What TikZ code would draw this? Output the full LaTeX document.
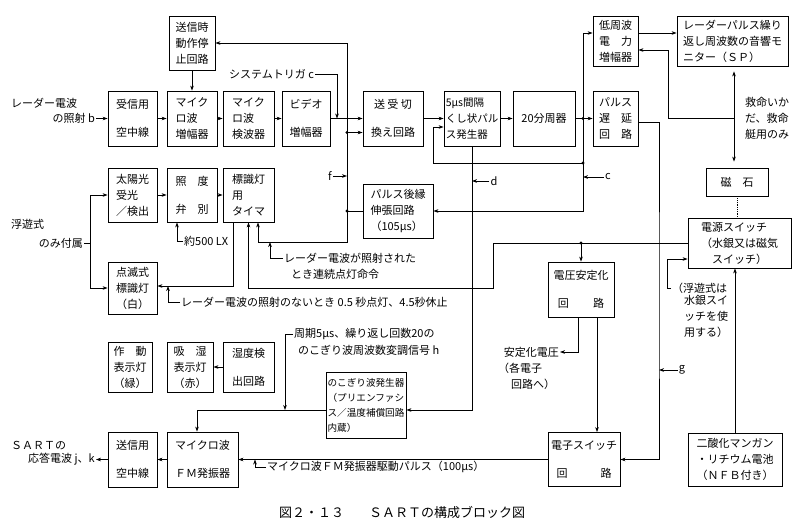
\documentclass[tikz,border=0pt]{standalone}
\usepackage{fontspec}
\setmainfont{Noto Sans CJK JP}
\usepackage{tikz}
\usetikzlibrary{arrows.meta, positioning, calc}

\begin{document}
\begin{tikzpicture}[
    x=1pt, y=-1pt,
    >={Stealth[length=5pt,width=3.6pt]},
    box/.style={rectangle, draw, line width=0.9pt, minimum height=55pt, inner sep=2pt, align=center, font=\fontsize{11}{16}\selectfont},
    lbl/.style={inner sep=1pt, font=\fontsize{11}{16}\selectfont},
    arrow/.style={->, line width=0.6pt},
    line/.style={line width=0.6pt},
    dot/.style={circle, fill, inner sep=1.1pt}
]
\useasboundingbox (0,0) rectangle (800,528);

% Nodes
\node[box, minimum width=46pt, minimum height=54pt] (stop) at (192,43) {送信時\\動作停\\止回路};
\node[box, minimum width=49pt] (rxant) at (132.5,118.5) {受信用\\[12pt]空中線};
\node[box, minimum width=50pt, align=left] (mwamp) at (192,118.5) {マイク\\ロ波\\増幅器};
\node[box, minimum width=51pt, align=left] (mwdet) at (248.5,118.5) {マイク\\ロ波\\検波器};
\node[box, minimum width=48pt] (video) at (306,118.5) {ビデオ\\[12pt]増幅器};
\node[box, minimum width=60pt] (trsw) at (393,118.5) {送 受 切\\[12pt]換え回路};
\node[box, minimum width=56pt, inner sep=1.5pt, align=left, font=\fontsize{10.5}{16}\selectfont] (comb) at (472,118.5) {5μs間隔\\くし状パル\\ス発生器};
\node[box, minimum width=62pt] (div) at (544,118.5) {20分周器};
\node[box, minimum width=45pt] (delay) at (615.5,118.5) {パルス\\遅\quad 延\\回\quad 路};
\node[box, minimum width=45pt, minimum height=50pt] (lfamp) at (615.5,41) {低周波\\電\quad 力\\増幅器};
\node[box, minimum width=111pt, minimum height=50pt, align=left] (spmon) at (732.5,41) {レーダーパルス繰り\\返し周波数の音響モ\\ニター（ＳＰ）};

\node[box, minimum width=49pt, minimum height=54pt, align=left] (solar) at (132.5,195) {太陽光\\受光\\／検出};
\node[box, minimum width=50pt, minimum height=54pt] (illum) at (192,195) {照\quad 度\\[12pt]弁\quad 別};
\node[box, minimum width=51pt, minimum height=54pt, align=left] (timer) at (248.5,195) {標識灯\\用\\タイマ};
\node[box, minimum width=70pt, minimum height=54pt, align=left] (stretch) at (398,211) {パルス後縁\\伸張回路\\（105μs）};
\node[box, minimum width=49pt, minimum height=52pt] (lamp) at (132.5,288) {点滅式\\標識灯\\（白）};

\node[box, minimum width=62pt, minimum height=28pt] (magnet) at (737,182) {磁\quad 石};
\node[box, minimum width=103pt, minimum height=50pt, align=left] (pwsw) at (739.5,243) {電源スイッチ\\（水銀又は磁気\\\quad スイッチ）};
\node[box, minimum width=66pt] (vreg) at (581,289.5) {電圧安定化\\[12pt]回\qquad\ 路};
\node[box, minimum width=72pt, minimum height=54pt] (eswitch) at (584,459.5) {電子スイッチ\\[12pt]回\qquad\quad 路};
\node[box, minimum width=94pt, minimum height=53pt] (battery) at (735,459.5) {二酸化マンガン\\・リチウム電池\\（ＮＦＢ付き）};

\node[box, minimum width=44pt, minimum height=50pt] (oplamp) at (130,367) {作\quad 動\\表示灯\\（緑）};
\node[box, minimum width=46pt, minimum height=50pt] (humlamp) at (190,367) {吸\quad 湿\\表示灯\\（赤）};
\node[box, minimum width=51pt, minimum height=50pt] (humdet) at (248.5,367) {湿度検\\[12pt]出回路};
\node[box, minimum width=80pt, minimum height=66pt, inner sep=1.5pt, align=left, font=\fontsize{9.6}{15}\selectfont] (saw) at (366,405) {のこぎり波発生器\\（プリエンファシ\\ス／温度補償回路\\内蔵）};
\node[box, minimum width=49pt] (txant) at (132.5,459.5) {送信用\\[12pt]空中線};
\node[box, minimum width=71pt] (fmosc) at (202.5,459.5) {マイクロ波\\[12pt]ＦＭ発振器};

% Labels
\node[lbl, anchor=west] (radar) at (10,103) {レーダー電波};
\node[lbl, anchor=east] (radarb) at (96,118.5) {の照射 b};
\node[lbl, anchor=west] (systrig) at (228,74) {システムトリガ c};
\node[lbl, anchor=west] (float1) at (10,224) {浮遊式};
\node[lbl, anchor=east] (float2) at (84,243) {のみ付属};
\node[lbl, anchor=west] (lux) at (183,241) {約500 LX};
\node[lbl] (lblf) at (330,176) {f};
\node[lbl] (lbld) at (494,181) {d};
\node[lbl] (lblc) at (608,177) {c};
\node[lbl] (lblg) at (682,370) {g};
\node[lbl, anchor=west] (cont1) at (283,258) {レーダー電波が照射された};
\node[lbl, anchor=west] (cont2) at (290,274) {とき連続点灯命令};
\node[lbl, anchor=west] (off) at (180,302) {レーダー電波の照射のないとき 0.5 秒点灯、4.5秒休止};
\node[lbl, anchor=west] (per1) at (293,334) {周期5μs、繰り返し回数20の};
\node[lbl, anchor=west] (per2) at (297,350) {のこぎり波周波数変調信号 h};
\node[lbl, anchor=east] (vout1) at (560,352) {安定化電圧};
\node[lbl, anchor=west] (vout2) at (497,368) {（各電子};
\node[lbl, anchor=west] (vout3) at (510,384) {回路へ）};
\node[lbl, anchor=west] (drv) at (266,467) {マイクロ波ＦＭ発振器駆動パルス（100μs）};
\node[lbl, anchor=west] (sart1) at (10,446) {ＳＡＲＴの};
\node[lbl, anchor=east] (sart2) at (96,459.5) {応答電波 j、k};
\node[lbl, align=left] (lifeboat) at (767,118) {救命いか\\だ、救命\\艇用のみ};
\node[lbl, anchor=west] (fn1) at (671,288) {（浮遊式は};
\node[lbl, anchor=north west, align=left] (fn2) at (683,294) {水銀スイ\\ッチを使\\用する）};
\node[font=\fontsize{13}{15}\selectfont] (title) at (402,512) {図２・１３\hspace{25pt}ＳＡＲＴの構成ブロック図};

% Points on the lines
\coordinate (trig) at (337,118.5);
\coordinate (j1) at (583,118.5);
\coordinate (j2) at (583,163);
\coordinate (fbk) at (433,163);
\coordinate (jf1) at (347,132.5);
\coordinate (jf2) at (347,211);
\coordinate (cmd) at (258,242);
\coordinate (contpt) at (270,242);
\coordinate (offpt) at (168,286);
\coordinate (fl) at (90,243);
\coordinate (jv) at (581,243);
\coordinate (pw2) at (493,288);
\coordinate (gx) at (659,300);
\coordinate (lbx) at (734,118.5);
\coordinate (lfr) at (668,118.5);
\coordinate (hpt) at (285,410);
\coordinate (drvpt) at (255,459.5);

% Arrows
\draw[arrow] (radarb) -- (rxant);
\draw[arrow] (rxant) -- (mwamp);
\draw[arrow] (mwamp) -- (mwdet);
\draw[arrow] (mwdet) -- (video);
\draw[arrow] (video) -- (trsw);
\draw[arrow] (stop) -- (mwamp);
\draw[arrow] (systrig.east) -| (trig);
\draw[arrow] (trsw) -- (comb);
\draw[arrow] (comb) -- (div);
\draw[line] (div) -- (j1);
\draw[arrow] (j1) -- (delay);
\draw[arrow] (j1) |- ([yshift=8pt]lfamp.west);
\draw[line] (j1) -- (j2);
\draw[arrow] (j2) -- (fbk) |- ([yshift=-8.5pt]comb.west);
\draw[arrow] (j2) |- (stretch.east);
\draw[arrow] (lblc) -- (lblc -| j2);
\draw[arrow] ([yshift=8pt]lfamp.east) -- ([yshift=8pt]lfamp.east -| spmon.west);

\draw[line] (stretch.west) -- (jf2);
\draw[line] (jf2) -- (jf1);
\draw[arrow] (jf1) -- ([yshift=-14pt]trsw.west);
\draw[arrow] (jf1) |- (stop.east);
\draw[arrow] (jf2) |- (cmd) -- ([xshift=9.5pt]timer.south);
\draw[arrow] (lblf) -- (lblf -| jf1);
\draw[arrow] (cont1.west) -| (contpt);

\draw[arrow] (solar) -- (illum);
\draw[arrow] (illum) -- (timer);
\draw[arrow] (lux.west) -| ([xshift=-15pt]illum.south);
\draw[arrow] ([xshift=-15.5pt]timer.south) |- ([yshift=2pt]lamp.east);
\draw[arrow] (off.west) -| (offpt);
\draw[line] (float2.east) -- (fl);
\draw[arrow] (fl) |- (solar.west);
\draw[arrow] (fl) |- (lamp.west);

\draw[line] (pwsw.west) -- (jv);
\draw[arrow] (jv) -- (vreg);
\draw[arrow] (jv) -| (pw2) -| (timer.south);
\draw[arrow] ([xshift=-3pt]vreg.south) |- (vout1.east);
\draw[arrow] ([xshift=16pt]vreg.south) -- ([xshift=16pt]vreg.south |- eswitch.north);
\draw[arrow] ([yshift=-3.5pt]delay.east) -| (gx) |- (eswitch.east);
\draw[arrow] (lblg) -- (lblg -| gx);
\draw[densely dotted, line width=0.8pt] (magnet.south) -- (magnet.south |- pwsw.north);
\draw[arrow] (battery.north) -- (battery.north |- pwsw.south);
\draw[arrow] (fn1.west) -- ++(-4,0) |- ([yshift=-16pt]pwsw.west);
\draw[<->, line, shorten <=5pt, shorten >=6pt] (spmon.south -| lbx) -- (magnet.north -| lbx);
\draw[arrow] (lbx) -- (lfr) |- ([yshift=-9pt]lfamp.east);

\draw[arrow] (comb.south) |- ([yshift=-5pt]saw.east);
\draw[arrow] (lbld) -- (lbld -| comb.south);
\draw[arrow] ([yshift=-5pt]saw.west) -| ([xshift=-5.5pt]fmosc.north);
\draw[arrow] (per1.west) -| (hpt);

\draw[arrow] (eswitch) -- (fmosc);
\draw[arrow] (drv.west) -| (drvpt);
\draw[arrow] (fmosc) -- (txant);
\draw[arrow] (txant) -- (sart2);
\draw[arrow] (humdet) -- (humlamp);

% Junctions
\node[dot] (dj1) at (j1) {};
\node[dot] (dj2) at (j2) {};
\node[dot] (djf1) at (jf1) {};
\node[dot] (djf2) at (jf2) {};
\node[dot] (djv) at (jv) {};

\end{tikzpicture}
\end{document}
